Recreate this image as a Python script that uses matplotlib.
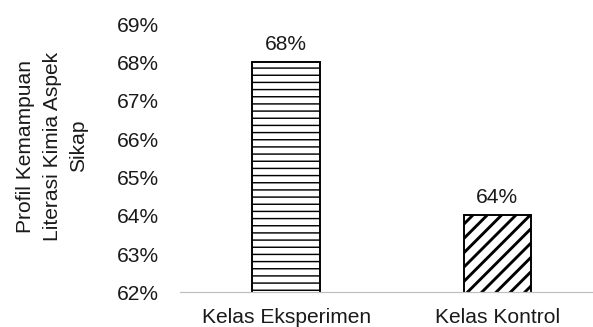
import matplotlib
matplotlib.use("Agg")
import matplotlib.pyplot as plt
from matplotlib.ticker import FuncFormatter

categories = ["Kelas Eksperimen", "Kelas Kontrol"]
values = [68, 64]
hatches = ["--", "//"]
hatch_widths = [1.2, 2.4]
yticks = [62, 63, 64, 65, 66, 67, 68, 69]
ylabel = "Profil Kemampuan\nLiterasi Kimia Aspek\nSikap"

DPI = 86.4
plt.rcParams["font.family"] = ["Liberation Sans", "DejaVu Sans"]
TXT = "#1a1a1a"
FS = 17.5

fig = plt.figure(figsize=(593.4 / DPI, 327.4 / DPI), dpi=DPI)
ax = fig.add_axes([180 / 593, 35 / 327, 413 / 593, 268 / 327])

x = list(range(len(categories)))
bars = ax.bar(x, values, width=0.32, bottom=0, color="white",
              edgecolor="black", linewidth=1.6, zorder=2)
for b, h, hw in zip(bars, hatches, hatch_widths):
    b.set_hatch(h)
    try:
        b.set_hatch_linewidth(hw)
    except AttributeError:
        plt.rcParams["hatch.linewidth"] = 1.8

for b, v in zip(bars, values):
    ax.annotate(f"{v}%", (b.get_x() + b.get_width() / 2, v),
                xytext=(0, 7), textcoords="offset points",
                ha="center", va="bottom", fontsize=FS, color=TXT)

ax.set_ylim(62, 69)
ax.set_xlim(-0.502, 1.455)
ax.set_yticks(yticks)
ax.yaxis.set_major_formatter(FuncFormatter(lambda v, p: f"{v:.0f}%"))
ax.set_xticks(x)
ax.set_xticklabels(categories)
ax.tick_params(axis="y", length=0, pad=18, labelsize=FS, labelcolor=TXT)
ax.tick_params(axis="x", length=0, pad=13, labelsize=FS, labelcolor=TXT)

for s in ["top", "right", "left"]:
    ax.spines[s].set_visible(False)
ax.spines["bottom"].set_color("#bfbfbf")
ax.spines["bottom"].set_linewidth(1.0)
ax.spines["bottom"].set_zorder(3)

fig.text(52 / 593, 1 - 146 / 327, ylabel, rotation=90, ha="center",
         va="center", multialignment="center", linespacing=1.5,
         fontsize=FS, color=TXT)

fig.savefig("out.png", dpi=DPI)
